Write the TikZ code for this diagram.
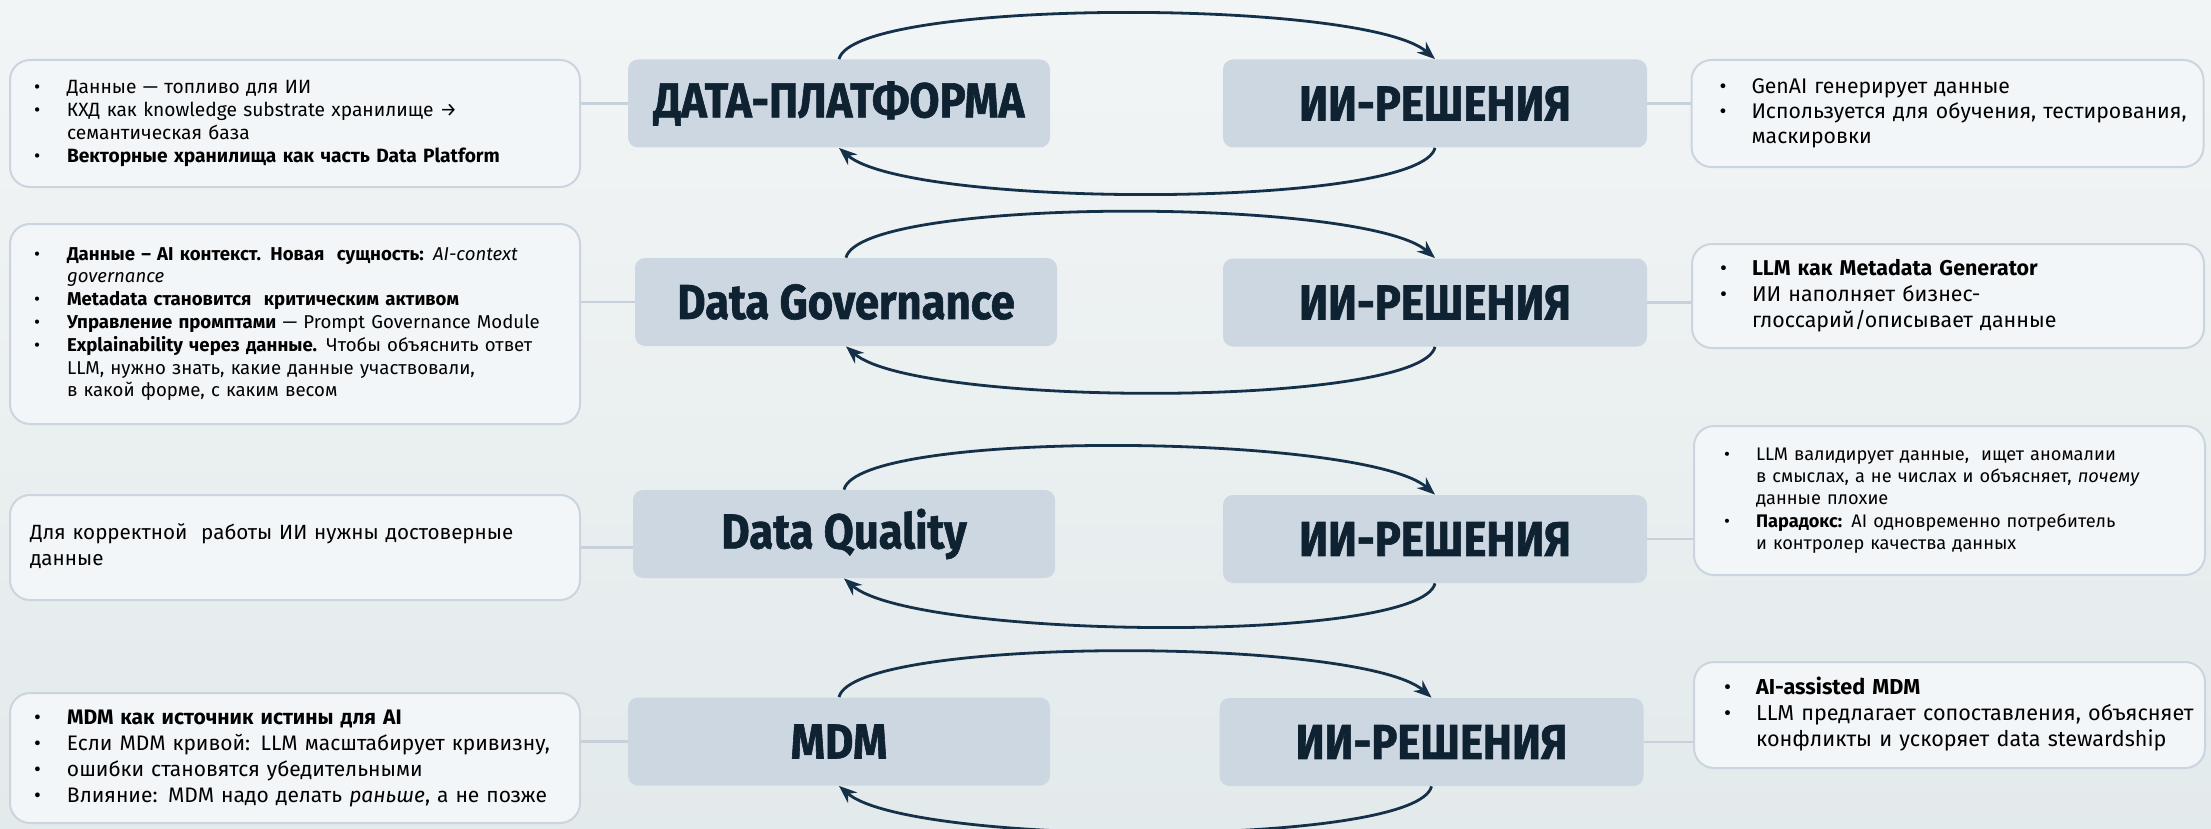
\documentclass[tikz,border=0pt]{standalone}
\usepackage{fontspec}
\setmainfont{Fira Sans}
\newfontfamily\titlefont{Fira Sans}[FakeStretch=0.89, BoldFeatures={FakeBold=1.2}]
\usetikzlibrary{arrows.meta}
\definecolor{titlefill}{HTML}{CDD7E1}
\definecolor{titletext}{HTML}{0E2232}
\definecolor{arcc}{HTML}{15314A}
\definecolor{boxfill}{HTML}{F3F6F8}
\definecolor{boxdraw}{HTML}{CAD5DF}
\definecolor{linkc}{HTML}{C6D1DB}
\definecolor{bgtop}{HTML}{F2F5F6}
\definecolor{bgbot}{HTML}{E3EAEB}
\newlength\bwL\setlength\bwL{16.5pt}
\newlength\bwR\setlength\bwR{16pt}
\begin{document}
\begin{tikzpicture}[x=0.5pt,y=-0.5pt,
  titlebox/.style={fill=titlefill, rounded corners=5pt, minimum width=211pt,
    minimum height=44pt, inner sep=0pt, text=titletext,
    font=\titlefont\bfseries\fontsize{24.5}{28}\selectfont},
  textbox/.style={draw=boxdraw, line width=1pt, fill=boxfill, rounded corners=10pt,
    align=left, inner ysep=0pt, text=black},
  lbox/.style={textbox, minimum width=285pt, inner xsep=12pt, text width=261pt},
  rbox/.style={textbox, minimum width=256pt, inner xsep=14pt, text width=228pt},
  arcline/.style={draw=arcc, line width=1.4pt, -{Stealth[length=9pt,width=7pt]}},
  link/.style={draw=linkc, line width=1.2pt}
]
\useasboundingbox (0,0) rectangle (2211,829);
\fill[top color=bgtop, bottom color=bgbot] (0,0) rectangle (2211,829);

% ---- title nodes
\node[titlebox] (t1) at (839,103.5) {ДАТА-ПЛАТФОРМА};
\node[titlebox, minimum width=212pt] (s1) at (1435,103.5) {ИИ-РЕШЕНИЯ};
\node[titlebox] (t2) at (846,302) {Data Governance};
\node[titlebox, minimum width=212pt] (s2) at (1435,302.5) {ИИ-РЕШЕНИЯ};
\node[titlebox] (t3) at (844,534) {Data Quality};
\node[titlebox, minimum width=212pt] (s3) at (1435,539) {ИИ-РЕШЕНИЯ};
\node[titlebox] (t4) at (839,741.5) {MDM};
\node[titlebox, minimum width=212pt] (s4) at (1431.5,742) {ИИ-РЕШЕНИЯ};

% ---- left text boxes
\node[lbox, minimum height=63.5pt, font=\fontsize{9.6}{11.4}\selectfont] (lb1) at (295,123.5) {%
\begin{tabular}{@{}p{\bwL}@{}l@{}}
\textbullet & Данные — топливо для ИИ\\
\textbullet & КХД как knowledge substrate хранилище →\\
 & семантическая база\\
\textbullet & \textbf{Векторные хранилища как часть Data Platform}
\end{tabular}};

\node[lbox, minimum height=100pt, font=\fontsize{9.3}{11.4}\selectfont] (lb2) at (295,324) {%
\begin{tabular}{@{}p{\bwL}@{}l@{}}
\textbullet & \textbf{Данные – AI контекст. Новая\ \ сущность:} \textit{AI-context}\\
 & \textit{governance}\\
\textbullet & \textbf{Metadata становится\ \ критическим активом}\\
\textbullet & \textbf{Управление промптами} — Prompt Governance Module\\
\textbullet & \textbf{Explainability через данные.} Чтобы объяснить ответ\\
 & LLM, нужно знать, какие данные участвовали,\\
 & в какой форме, с каким весом
\end{tabular}};

\node[lbox, minimum height=52.5pt, inner xsep=10pt, text width=265pt, font=\fontsize{10.3}{12.7}\selectfont] (lb3) at (295,547.5) {%
\begin{tabular}{@{}l@{}}
Для корректной\ \ работы ИИ нужны достоверные\\
данные
\end{tabular}};

\node[lbox, minimum height=65pt, font=\fontsize{10.5}{13}\selectfont] (lb4) at (295,758) {%
\begin{tabular}{@{}p{\bwL}@{}l@{}}
\textbullet & \textbf{MDM как источник истины для AI}\\
\textbullet & Если MDM кривой: LLM масштабирует кривизну,\\
\textbullet & ошибки становятся убедительными\\
\textbullet & Влияние: MDM надо делать \textit{раньше}, а не позже
\end{tabular}};

% ---- right text boxes
\node[rbox, minimum height=53.5pt, font=\fontsize{10.6}{12.7}\selectfont] (rb1) at (1947.5,113.5) {%
\begin{tabular}{@{}p{\bwR}@{}l@{}}
\textbullet & GenAI генерирует данные\\
\textbullet & Используется для обучения, тестирования,\\
 & маскировки
\end{tabular}};

\node[rbox, minimum height=52pt, font=\fontsize{10.7}{13}\selectfont] (rb2) at (1948,296) {%
\begin{tabular}{@{}p{\bwR}@{}l@{}}
\textbullet & \textbf{LLM как Metadata Generator}\\
\textbullet & ИИ наполняет бизнес-\\
 & глоссарий/описывает данные
\end{tabular}};

\node[rbox, minimum width=255.5pt, inner xsep=15pt, text width=225.5pt, minimum height=74.5pt, font=\fontsize{9.1}{11.1}\selectfont] (rb3) at (1949.5,500.5) {%
\begin{tabular}{@{}p{\bwR}@{}l@{}}
\textbullet & LLM валидирует данные,\ \ ищет аномалии\\
 & в смыслах, а не числах и объясняет, \textit{почему}\\
 & данные плохие\\
\textbullet & \textbf{Парадокс:} AI одновременно потребитель\\
 & и контролер качества данных
\end{tabular}};

\node[rbox, minimum width=255.5pt, inner xsep=15pt, text width=225.5pt, minimum height=53pt, font=\fontsize{10.8}{13}\selectfont] (rb4) at (1949.5,715) {%
\begin{tabular}{@{}p{\bwR}@{}l@{}}
\textbullet & \textbf{AI-assisted MDM}\\
\textbullet & LLM предлагает сопоставления, объясняет\\
 & конфликты и ускоряет data stewardship
\end{tabular}};

% ---- connectors to text boxes
\draw[link] (t1.west) -- (t1.west -| lb1.east);
\draw[link] (s1.east) -- (s1.east -| rb1.west);
\draw[link] (t2.west) -- (t2.west -| lb2.east);
\draw[link] (s2.east) -- (s2.east -| rb2.west);
\draw[link] (lb3.east) -- (lb3.east -| t3.west);
\draw[link] (s3.east) -- (s3.east -| rb3.west);
\draw[link] (t4.west) -- (t4.west -| lb4.east);
\draw[link] (s4.east) -- (s4.east -| rb4.west);

% ---- cycle arcs
\foreach \a/\b in {t1/s1,t2/s2,t3/s3,t4/s4}{
  \draw[arcline] (\a.north) .. controls +(15,-61) and +(-70,-61) .. (\b.north);
  \draw[arcline] (\b.south) .. controls +(-15,61) and +(70,61) .. (\a.south);
}
\end{tikzpicture}
\end{document}
